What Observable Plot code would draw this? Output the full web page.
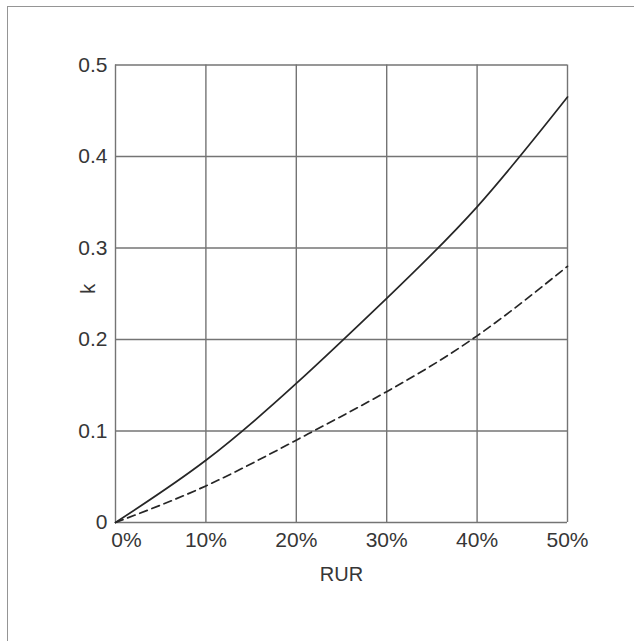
<!DOCTYPE html>
<html>
<head>
<meta charset="utf-8">
<script src="https://cdn.jsdelivr.net/npm/d3@7"></script>
<script src="https://cdn.jsdelivr.net/npm/@observablehq/plot@0.6"></script>
<style>
  html, body { margin: 0; padding: 0; background: #fff; }
  #wrap { position: relative; width: 634px; height: 641px; overflow: hidden; }
  #frame { position: absolute; left: 7px; top: 6px; width: 700px; height: 700px;
           border-top: 1.5px solid #959595; border-left: 1.5px solid #959595; }
  #chart { position: absolute; left: 0; top: 0; }
</style>
</head>
<body>
<div id="wrap"><div id="frame"></div><div id="chart"></div></div>
<script>
// RUR (percent) against k for the two curves
const rur = [0, 10, 20, 30, 40, 50];
const kSolid = [0, 0.068, 0.152, 0.245, 0.345, 0.465];
const kDashed = [0, 0.040, 0.090, 0.143, 0.204, 0.280];

const xTicks = [0, 10, 20, 30, 40, 50];
const yTicks = [0, 0.1, 0.2, 0.3, 0.4, 0.5];
const xTitle = "RUR";
const yTitle = "k";

const solid = rur.map((r, i) => ({rur: r, k: kSolid[i]}));
const dashed = rur.map((r, i) => ({rur: r, k: kDashed[i]}));

const gridColor = "#747474";
const inkColor = "#262626";
const textColor = "#363636";

const chart = Plot.plot({
  width: 634,
  height: 641,
  marginLeft: 115,
  marginRight: 67,
  marginTop: 64.5,
  marginBottom: 119,
  style: {fontFamily: "'Liberation Sans', Arial, Helvetica, sans-serif", fontSize: "21px", color: textColor, background: "transparent"},
  x: {domain: [0, 50]},
  y: {domain: [0, 0.5]},
  marks: [
    Plot.ruleX(xTicks, {stroke: gridColor, strokeWidth: 1.4, strokeOpacity: 1}),
    Plot.ruleY(yTicks, {stroke: gridColor, strokeWidth: 1.4, strokeOpacity: 1}),
    Plot.line(solid, {x: "rur", y: "k", curve: "natural", stroke: inkColor, strokeWidth: 1.7}),
    Plot.line(dashed, {x: "rur", y: "k", curve: "natural", stroke: inkColor, strokeWidth: 1.7, strokeDasharray: "8,5"}),
    Plot.axisY(yTicks, {tickSize: 0, tickPadding: 8, label: null, fill: textColor,
      tickFormat: d => d === 0 ? "0" : d.toFixed(1)}),
    Plot.axisX(xTicks.filter(d => d > 0), {tickSize: 0, tickPadding: 9.5, label: null, fill: textColor,
      tickFormat: d => d + "%"}),
    Plot.axisX([0], {tickSize: 0, tickPadding: 9.5, label: null, fill: textColor, dx: 11,
      tickFormat: d => d + "%"}),
    Plot.text([xTitle], {frameAnchor: "bottom", dy: 58, text: d => d, fill: textColor, fontSize: 20}),
    Plot.text([yTitle], {frameAnchor: "left", dx: -27, rotate: -90, text: d => d, fill: textColor, fontSize: 20})
  ]
});
document.getElementById("chart").appendChild(chart);
</script>
</body>
</html>
